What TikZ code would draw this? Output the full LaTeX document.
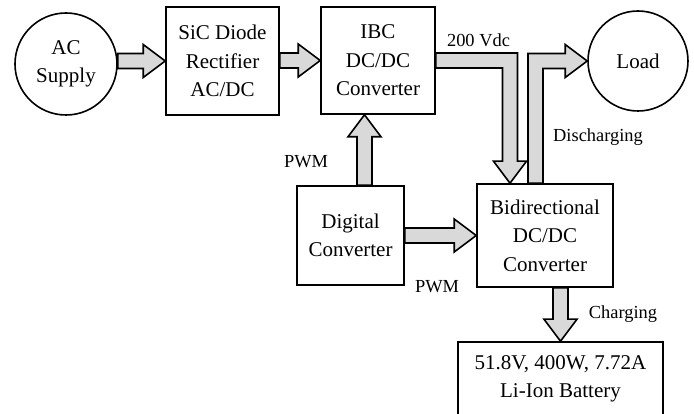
\documentclass[tikz,border=0pt]{standalone}
\usepackage{fontspec}
\setmainfont{Liberation Serif}
\usetikzlibrary{calc,positioning}

% straight flow arrows: #1 = start node, #2 = tip
\newcommand{\flowright}[2]{%
	\draw[flow] ($(#1 |- #2)+(0,-7.5)$) -- ($(#2)+(-22,-7.5)$) -- ($(#2)+(-22,-16.5)$) -- (#2)
	-- ($(#2)+(-22,16.5)$) -- ($(#2)+(-22,7.5)$) -- ($(#1 |- #2)+(0,7.5)$) -- cycle;}
% #3 = head length, signed (+ for up, - for down)
\newcommand{\flowvert}[3]{%
	\draw[flow] ($(#2 |- #1)+(-7.5,0)$) -- ($(#2)+(-7.5,#3)$) -- ($(#2)+(-16.5,#3)$) -- (#2)
	-- ($(#2)+(16.5,#3)$) -- ($(#2)+(7.5,#3)$) -- ($(#2 |- #1)+(7.5,0)$) -- cycle;}

\begin{document}
\begin{tikzpicture}[x=1pt,y=-1pt,
	% Block style
	block/.style={rectangle,draw,line width=1.6pt,align=center,inner sep=0pt,font=\fontsize{21}{28.5}\selectfont},
	source/.style={circle,draw,line width=1.6pt,align=center,inner sep=0pt,font=\fontsize{21}{28.5}\selectfont},
	% Flow arrows and labels
	flow/.style={draw,fill=black!15,line width=1.6pt,line join=miter},
	tag/.style={font=\fontsize{18.4}{22}\selectfont}
	]
	\useasboundingbox (0,0) rectangle (694,414);
	%% Draw blocks
	\node (ac) [source,minimum size=102pt] at (66,64) {AC\\Supply};
	\node (rect) [block,minimum width=113pt,minimum height=108pt] at (222.5,61) {SiC Diode\\Rectifier\\AC/DC};
	\node (ibc) [block,minimum width=114pt,minimum height=107pt] at (378,60.5) {IBC\\DC/DC\\Converter};
	\node (load) [source,minimum size=100pt] at (638,61) {Load};
	\node (dig) [block,minimum width=107pt,minimum height=99pt] at (350.5,235.5) {Digital\\Converter};
	\node (bid) [block,minimum width=136pt,minimum height=103pt] at (545,235.5) {Bidirectional\\DC/DC\\Converter};
	\node (bat) [block,minimum width=205pt,minimum height=74pt] at (560.5,379) {51.8V, 400W, 7.72A\\Li-Ion Battery};
	%% Draw flows
	\flowright{ac.east}{rect.west}
	\flowright{rect.east}{ibc.west}
	\flowright{dig.east}{bid.west}
	\coordinate (pwmtip) at ($(ibc.south)+(-13.5,0)$);
	\flowvert{dig.north}{pwmtip}{22}
	\flowvert{bid.south}{bat.north}{-22}
	\coordinate (dctip) at ($(bid.north)+(-35,0)$);
	\draw[flow] ($(ibc.east)+(0,-7.5)$) -| ($(dctip)+(7.5,-22)$) -- ($(dctip)+(16.5,-22)$) -- (dctip)
		-- ($(dctip)+(-16.5,-22)$) -- ($(dctip)+(-7.5,-22)$) |- ($(ibc.east)+(0,7.5)$) -- cycle;
	\draw[flow] ($(bid.north)+(-17,0)$) |- ($(load.west)+(-22,-7.5)$) -- ($(load.west)+(-22,-16.5)$) -- (load.west)
		-- ($(load.west)+(-22,16.5)$) -- ($(load.west)+(-22,7.5)$) -| ($(bid.north)+(-2,0)$) -- cycle;
	%% Labels
	\node (vdc) [tag] at (478.5,40) {200 Vdc};
	\node (dis) [tag] at (598,137) {Discharging};
	\node (pwm1) [tag] at (306,162) {PWM};
	\node (pwm2) [tag] at (437,287) {PWM};
	\node (chg) [tag] at (623,314) {Charging};
\end{tikzpicture}
\end{document}
